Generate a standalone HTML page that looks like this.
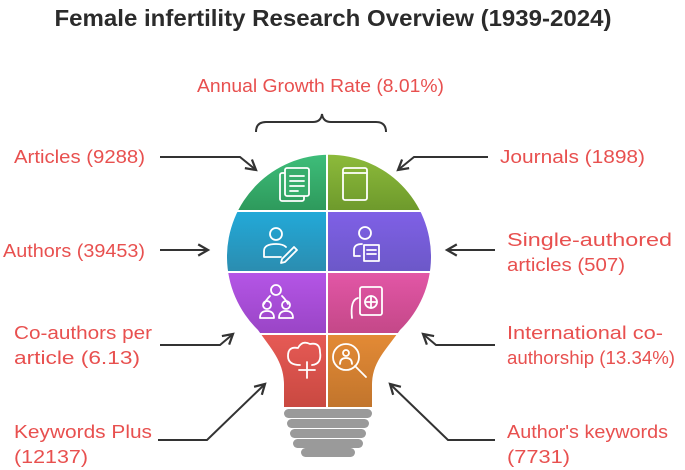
<!DOCTYPE html>
<html><head><meta charset="utf-8"><style>
html,body{margin:0;padding:0;background:#fff;}
svg{display:block;font-family:"Liberation Sans",sans-serif;}
.lbl{fill:#e8504f;font-size:18px;}
.ar{fill:none;stroke:#333;stroke-width:2;}
.ic{fill:none;stroke:#fff;stroke-width:1.8;stroke-linejoin:round;stroke-linecap:round;}
</style></head><body>
<svg width="685" height="470" viewBox="0 0 685 470">
<defs>
<marker id="ah" viewBox="0 0 10 10" refX="8" refY="5" markerWidth="7" markerHeight="7" orient="auto-start-reverse"><path d="M1,1 L8,5 L1,9" fill="none" stroke="#333" stroke-width="1.6"/></marker>
<clipPath id="bulb"><path d="M258,330 A102 102 0 1 1 400,330 C386,350 372,362 372,385 L372,407 L284,407 L284,385 C284,362 272,350 258,330 Z"/></clipPath>
<linearGradient id="g1" x1="0" y1="0" x2="0" y2="1"><stop offset="0" stop-color="#3fc07c"/><stop offset="1" stop-color="#2e9a5c"/></linearGradient>
<linearGradient id="g2" x1="0" y1="0" x2="0" y2="1"><stop offset="0" stop-color="#8fbd3c"/><stop offset="1" stop-color="#6e9a2c"/></linearGradient>
<linearGradient id="g3" x1="0" y1="0" x2="0" y2="1"><stop offset="0" stop-color="#22a9d8"/><stop offset="1" stop-color="#2b8db0"/></linearGradient>
<linearGradient id="g4" x1="0" y1="0" x2="0" y2="1"><stop offset="0" stop-color="#7f60e6"/><stop offset="1" stop-color="#6c58c8"/></linearGradient>
<linearGradient id="g5" x1="0" y1="0" x2="0" y2="1"><stop offset="0" stop-color="#b455e6"/><stop offset="1" stop-color="#9a45c6"/></linearGradient>
<linearGradient id="g6" x1="0" y1="0" x2="0" y2="1"><stop offset="0" stop-color="#e256a6"/><stop offset="1" stop-color="#c44888"/></linearGradient>
<linearGradient id="g7" x1="0" y1="0" x2="0" y2="1"><stop offset="0" stop-color="#e65a55"/><stop offset="1" stop-color="#c84840"/></linearGradient>
<linearGradient id="g8" x1="0" y1="0" x2="0" y2="1"><stop offset="0" stop-color="#e38a35"/><stop offset="1" stop-color="#c0742c"/></linearGradient>
</defs>

<text x="333" y="26" text-anchor="middle" font-size="23" font-weight="bold" fill="#2b2b2b" textLength="557" lengthAdjust="spacingAndGlyphs">Female infertility Research Overview (1939-2024)</text>

<text class="lbl" x="197" y="92" font-size="19" textLength="247" lengthAdjust="spacingAndGlyphs">Annual Growth Rate (8.01%)</text>
<path class="ar" d="M256,132 Q256,122 266,122 L313,122 Q321,122 322,114 Q323,122 331,122 L376,122 Q386,122 386,132"/>

<g clip-path="url(#bulb)">
<rect x="220" y="150" width="106" height="60" fill="url(#g1)"/>
<rect x="328" y="150" width="110" height="60" fill="url(#g2)"/>
<rect x="220" y="212" width="106" height="59" fill="url(#g3)"/>
<rect x="328" y="212" width="110" height="59" fill="url(#g4)"/>
<rect x="220" y="273" width="106" height="60" fill="url(#g5)"/>
<rect x="328" y="273" width="110" height="60" fill="url(#g6)"/>
<rect x="220" y="335" width="106" height="75" fill="url(#g7)"/>
<rect x="328" y="335" width="110" height="75" fill="url(#g8)"/>
</g>

<g fill="#9a9a9a">
<rect x="284" y="409" width="88" height="9" rx="4.5"/>
<rect x="287" y="419" width="82" height="9" rx="4.5"/>
<rect x="290" y="429" width="76" height="9" rx="4.5"/>
<rect x="293" y="439" width="70" height="9" rx="4.5"/>
<rect x="301" y="448" width="54" height="9" rx="4.5"/>
</g>

<g class="ic">
<rect x="280" y="173" width="24" height="28" rx="2"/><rect x="285" y="168" width="24" height="28" rx="2" fill="#37ad6c"/>
<path d="M290,176 H304 M290,181 H304 M290,186 H304 M290,191 H298"/>
<rect x="343" y="168" width="24" height="32" rx="2"/><path d="M343,173 H367"/>
<circle cx="276" cy="234" r="6"/><path d="M264,257 V251 Q264,244 276,244 Q283,244 286,247 M264,257 H281"/><path d="M282,259 L294,247 L297,250 L285,262 L281,263 Z"/>
<circle cx="365" cy="233" r="6"/><path d="M354,256 V250 Q354,244 362,244 M354,256 H360"/><rect x="364" y="245" width="15" height="16"/><path d="M367,250 H376 M367,254 H376"/>
<circle cx="276" cy="290" r="5"/><circle cx="267" cy="305" r="4"/><circle cx="286" cy="305" r="4"/><path d="M260,318 Q260,311 267,311 Q274,311 274,318 Z M279,318 Q279,311 286,311 Q293,311 293,318 Z M270,296 Q266,300 264,304 M282,296 Q286,300 288,304"/>
<rect x="360" y="287" width="22" height="28" rx="2"/><circle cx="371" cy="302" r="6"/><path d="M365,302 H377 M371,296 V308"/><path d="M358,298 Q350,300 352,318"/>
<path d="M300,365 Q288,365 288,356 Q288,346 298,348 Q302,340 310,344 Q320,342 320,352 Q322,364 312,365"/><path d="M307,362 V378 M299,370 H315"/>
<circle cx="346" cy="357" r="13"/><path d="M355,366 L366,377"/><circle cx="346" cy="353" r="3"/><path d="M340,364 Q340,358 346,358 Q352,358 352,364"/>
</g>
<line x1="327" y1="150" x2="327" y2="407" stroke="#fff" stroke-width="2"/>

<text class="lbl" x="14" y="163" textLength="131" lengthAdjust="spacingAndGlyphs">Articles (9288)</text>
<path class="ar" marker-end="url(#ah)" d="M160,157 L240,157 L256,170"/>
<text class="lbl" x="500" y="163" textLength="145" lengthAdjust="spacingAndGlyphs">Journals (1898)</text>
<path class="ar" marker-end="url(#ah)" d="M488,157 L414,157 L398,170"/>

<text class="lbl" x="3" y="257" textLength="142" lengthAdjust="spacingAndGlyphs">Authors (39453)</text>
<path class="ar" marker-end="url(#ah)" d="M160,250 L208,250"/>
<text class="lbl" x="507" y="246" textLength="165" lengthAdjust="spacingAndGlyphs">Single-authored</text>
<text class="lbl" x="507" y="271" textLength="118" lengthAdjust="spacingAndGlyphs">articles (507)</text>
<path class="ar" marker-end="url(#ah)" d="M495,250 L447,250"/>

<text class="lbl" x="14" y="339" textLength="138" lengthAdjust="spacingAndGlyphs">Co-authors per</text>
<text class="lbl" x="14" y="364" textLength="126" lengthAdjust="spacingAndGlyphs">article (6.13)</text>
<path class="ar" marker-end="url(#ah)" d="M160,345 L220,345 L233,334"/>
<text class="lbl" x="507" y="339" textLength="156" lengthAdjust="spacingAndGlyphs">International co-</text>
<text class="lbl" x="507" y="364" textLength="168" lengthAdjust="spacingAndGlyphs">authorship (13.34%)</text>
<path class="ar" marker-end="url(#ah)" d="M495,345 L436,345 L423,334"/>

<text class="lbl" x="14" y="438" textLength="138" lengthAdjust="spacingAndGlyphs">Keywords Plus</text>
<text class="lbl" x="14" y="463" textLength="74" lengthAdjust="spacingAndGlyphs">(12137)</text>
<path class="ar" marker-end="url(#ah)" d="M158,440 L207,440 L265,384"/>
<text class="lbl" x="507" y="438" textLength="161" lengthAdjust="spacingAndGlyphs">Author's keywords</text>
<text class="lbl" x="507" y="463" textLength="63" lengthAdjust="spacingAndGlyphs">(7731)</text>
<path class="ar" marker-end="url(#ah)" d="M495,440 L448,440 L390,384"/>
</svg>
</body></html>
